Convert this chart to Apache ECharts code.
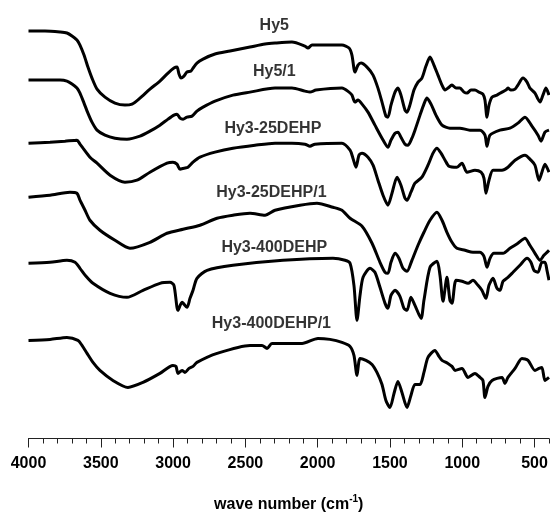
<!DOCTYPE html>
<html>
<head>
<meta charset="utf-8">
<script src="https://cdn.jsdelivr.net/npm/echarts@6/dist/echarts.min.js"></script>
<style>
html,body{margin:0;padding:0;background:#fff;}
#chart{width:550px;height:514px;}
</style>
</head>
<body>
<div id="chart"></div>
<script>
// Spectra: [wave number (cm-1), transmittance (a.u., stacked with offsets)]
const hy5 = [[4000,407],[3886,407],[3782,406],[3734,405],[3699,402],[3665,398],[3644,393],[3616,383],[3589,371],[3561,360],[3526,349],[3471,341],[3402,335],[3333,333],[3284,334],[3229,340],[3160,349],[3091,357],[3035,365],[2994,370],[2973,371],[2959,364],[2945,360],[2925,362],[2904,366],[2876,367],[2862,370],[2835,375],[2793,379],[2710,384],[2606,387],[2468,391],[2364,394],[2295,395],[2178,396],[2088,392],[2067,390],[2039,393],[1949,393],[1832,393],[1783,390],[1763,383],[1742,366],[1721,373],[1700,375],[1659,371],[1617,363],[1583,350],[1555,336],[1528,322],[1514,321],[1493,333],[1465,346],[1445,350],[1424,343],[1396,328],[1382,326],[1362,333],[1334,348],[1306,356],[1279,360],[1251,372],[1223,381],[1196,373],[1168,363],[1140,353],[1119,348],[1099,350],[1071,353],[1043,350],[1016,350],[988,346],[967,345],[940,348],[912,348],[884,346],[857,344],[843,338],[829,321],[815,333],[794,341],[760,343],[725,346],[698,348],[684,350],[663,348],[635,349],[615,353],[580,360],[552,356],[532,350],[497,345],[476,339],[462,336],[442,343],[421,350],[400,343]];
const hy5_1 = [[4000,358],[3886,358],[3782,358],[3734,357],[3699,354],[3665,350],[3644,345],[3616,335],[3589,325],[3561,316],[3526,308],[3471,303],[3402,300],[3319,299],[3229,302],[3160,307],[3091,313],[3035,319],[2994,323],[2973,324],[2952,320],[2931,319],[2904,321],[2869,322],[2835,327],[2793,331],[2710,337],[2586,343],[2468,346],[2295,350],[2178,350],[2088,347],[2053,346],[2012,348],[1832,350],[1783,346],[1763,343],[1742,336],[1721,338],[1693,334],[1652,326],[1604,313],[1555,300],[1514,291],[1493,298],[1465,305],[1445,306],[1424,301],[1396,294],[1375,293],[1348,300],[1327,308],[1292,323],[1265,334],[1244,340],[1216,334],[1182,323],[1140,313],[1085,310],[1016,310],[947,308],[877,308],[843,303],[829,292],[808,303],[739,308],[670,310],[615,315],[566,321],[518,312],[476,303],[455,297],[428,306],[400,308]];
const hy3_25 = [[4000,295],[3851,296],[3748,297],[3665,298],[3644,294],[3623,290],[3575,281],[3526,275],[3436,263],[3333,256],[3250,258],[3160,266],[3042,275],[3001,276],[2973,274],[2952,269],[2925,270],[2897,271],[2862,276],[2814,281],[2710,286],[2586,290],[2433,293],[2295,295],[2178,295],[2088,294],[2053,292],[2019,294],[1832,295],[1776,288],[1756,280],[1735,271],[1714,283],[1693,285],[1652,281],[1617,273],[1583,258],[1548,243],[1514,233],[1486,245],[1451,261],[1424,253],[1396,240],[1382,238],[1355,246],[1327,255],[1279,261],[1237,273],[1202,285],[1175,290],[1147,285],[1119,278],[1092,272],[1037,271],[1002,275],[967,266],[912,268],[870,266],[850,260],[836,245],[815,258],[787,268],[725,268],[684,271],[635,278],[566,283],[525,278],[497,273],[469,258],[449,266],[428,274],[400,266]];
const hy3_25_1 = [[4000,241],[3851,243],[3713,246],[3665,245],[3644,238],[3609,228],[3575,218],[3506,208],[3402,198],[3298,190],[3160,196],[3042,205],[2931,209],[2814,213],[2696,220],[2586,223],[2468,225],[2364,223],[2295,228],[2122,233],[2005,235],[1894,231],[1832,228],[1776,220],[1693,212],[1624,195],[1569,176],[1534,166],[1514,165],[1493,176],[1465,185],[1438,180],[1410,170],[1382,167],[1348,178],[1306,193],[1265,206],[1223,218],[1175,226],[1140,218],[1106,206],[1071,196],[1037,190],[981,188],[926,186],[877,186],[850,182],[829,171],[808,180],[781,185],[718,185],[670,190],[615,195],[566,200],[532,193],[497,185],[462,178],[435,183],[400,188]];
const hy3_400 = [[4000,175],[3851,176],[3734,178],[3678,176],[3644,170],[3602,162],[3554,155],[3436,145],[3319,141],[3208,148],[3091,155],[3021,156],[2994,153],[2966,128],[2938,136],[2904,131],[2883,140],[2862,148],[2835,160],[2765,168],[2586,173],[2240,178],[1894,180],[1811,178],[1776,175],[1749,153],[1728,118],[1707,143],[1686,161],[1638,170],[1604,166],[1569,151],[1534,135],[1514,130],[1493,143],[1465,148],[1431,142],[1403,130],[1382,128],[1355,141],[1327,133],[1285,120],[1265,138],[1223,171],[1175,177],[1154,163],[1133,137],[1106,161],[1085,138],[1071,135],[1043,158],[1002,157],[960,155],[926,158],[891,153],[864,148],[836,140],[815,153],[787,160],[760,150],[739,148],[718,157],[684,161],[649,166],[601,173],[552,180],[525,176],[504,168],[476,166],[449,176],[428,176],[414,168],[400,158]];
const hy3_400_1 = [[4000,98],[3851,99],[3734,101],[3658,98],[3630,93],[3595,85],[3554,76],[3506,68],[3416,58],[3312,51],[3208,56],[3091,65],[3001,73],[2980,72],[2966,65],[2938,68],[2918,66],[2890,70],[2862,72],[2835,76],[2696,85],[2468,93],[2385,93],[2350,90],[2316,95],[2108,95],[1998,100],[1915,99],[1832,96],[1776,92],[1749,83],[1728,63],[1707,80],[1666,78],[1624,74],[1590,66],[1555,54],[1528,38],[1500,31],[1472,45],[1445,57],[1417,46],[1382,31],[1355,43],[1327,54],[1292,54],[1265,66],[1237,81],[1189,88],[1161,82],[1140,78],[1099,75],[1071,72],[1050,68],[1002,70],[960,61],[912,65],[877,61],[857,58],[843,41],[822,52],[794,58],[725,61],[705,55],[684,61],[635,70],[587,80],[545,78],[497,68],[469,70],[449,71],[428,58],[400,61]];

const seriesNames = ['Hy5','Hy5/1','Hy3-25DEHP','Hy3-25DEHP/1','Hy3-400DEHP','Hy3-400DEHP/1'];
const seriesData = [hy5, hy5_1, hy3_25, hy3_25_1, hy3_400, hy3_400_1];
const labelWave = [2300, 2300, 2310, 2320, 2300, 2320];
const labelLevel = [412, 366, 310, 246, 191, 115];
const majorTicks = [500, 1000, 1500, 2000, 2500, 3000, 3500, 4000];

const chart = echarts.init(document.getElementById('chart'));
const font = 'Liberation Sans, Arial, sans-serif';

const series = seriesData.map((d, i) => ({
  type: 'line',
  name: seriesNames[i],
  data: d,
  xAxisIndex: 0,
  showSymbol: false,
  symbol: 'none',
  smooth: 0.25,
  lineStyle: { color: '#000', width: 3 },
  silent: true,
  animation: false
}));
series.push({
  type: 'scatter',
  xAxisIndex: 0,
  symbolSize: 0,
  silent: true,
  animation: false,
  data: seriesNames.map((n, i) => ({ name: n, value: [labelWave[i], labelLevel[i]] })),
  label: {
    show: true, position: 'inside', formatter: p => p.name,
    fontFamily: font, fontWeight: 'bold', fontSize: 16, color: '#000'
  }
});

chart.setOption({
  backgroundColor: '#fff',
  animation: false,
  grid: { left: 28.5, right: 1, top: 0, bottom: 75.5, containLabel: false, outerBoundsMode: 'none' },
  xAxis: [
    {
      type: 'value', min: 400, max: 4000, interval: 100, inverse: true,
      position: 'bottom',
      axisLine: { show: true, lineStyle: { color: '#222', width: 1 } },
      axisTick: { show: true, length: 5, lineStyle: { color: '#222', width: 1 } },
      axisLabel: { show: false },
      splitLine: { show: false }
    },
    {
      type: 'value', min: 400, max: 4000, inverse: true,
      position: 'bottom',
      axisLine: { show: false },
      axisTick: { show: true, length: 9, customValues: majorTicks, lineStyle: { color: '#222', width: 1 } },
      axisLabel: {
        show: true, customValues: majorTicks, margin: 17,
        formatter: v => String(v),
        fontFamily: font, fontWeight: 'bold', fontSize: 16, color: '#000'
      },
      splitLine: { show: false },
      name: '{a|wave number (cm}{s|-1}{a|)}',
      nameLocation: 'middle',
      nameGap: 56,
      nameTextStyle: {
        rich: {
          a: { fontFamily: font, fontWeight: 'bold', fontSize: 16, color: '#000', lineHeight: 20 },
          s: { fontFamily: font, fontWeight: 'bold', fontSize: 10, color: '#000', lineHeight: 10, verticalAlign: 'top' }
        }
      }
    }
  ],
  yAxis: { type: 'value', min: 0, max: 438, show: false },
  series: series
});
</script>
</body>
</html>
